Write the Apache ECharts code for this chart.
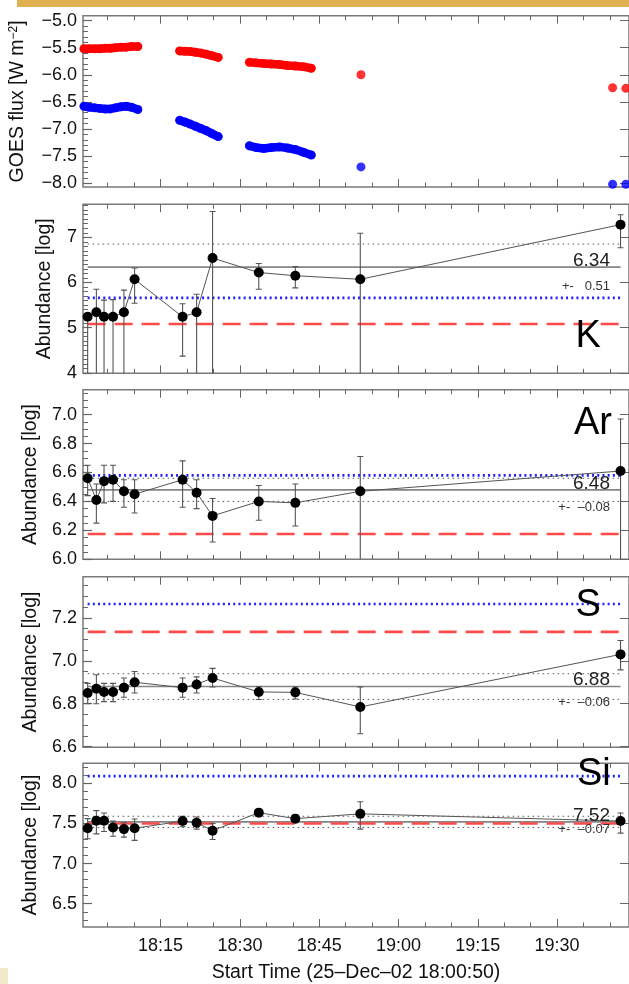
<!DOCTYPE html>
<html><head><meta charset="utf-8">
<script src="https://cdn.jsdelivr.net/npm/echarts@6.0.0/dist/echarts.min.js"></script>
<style>html,body{margin:0;padding:0;background:#fff;}#chart{width:629px;height:984px;}</style>
</head><body><div id="chart"></div>
<script>
// ---------------- DATA ----------------
// GOES flux (log W m^-2), time in minutes after 18:00 ; null = gap between segments
const goesTime  = [0.5,1.5,2.5,3.5,4.5,5.5,6.5,7.5,8.5,9.5,10.7, null,
                   18.6,19.6,20.6,21.6,22.6,23.6,24.6,25.9, null,
                   31.8,33,34.5,36,37.5,39,40.5,42,43.5, null, 52.9, null, 100.5, null, 103.0];
const goesLong  = [-5.52,-5.52,-5.52,-5.52,-5.51,-5.51,-5.50,-5.49,-5.49,-5.48,-5.48, null,
                   -5.56,-5.565,-5.57,-5.585,-5.60,-5.62,-5.645,-5.68, null,
                   -5.77,-5.78,-5.79,-5.80,-5.81,-5.83,-5.84,-5.85,-5.88, null, -6.00, null, -6.24, null, -6.25];
const goesShort = [-6.58,-6.60,-6.61,-6.62,-6.63,-6.63,-6.61,-6.59,-6.58,-6.60,-6.64, null,
                   -6.84,-6.87,-6.91,-6.95,-6.99,-7.03,-7.08,-7.14, null,
                   -7.31,-7.34,-7.36,-7.34,-7.33,-7.35,-7.38,-7.43,-7.48, null, -7.70, null, -8.02, null, -8.02];

// Abundance measurements, time in minutes after 18:00
const abTime = [1.2, 2.85, 4.3, 6.0, 8.06, 10.08, 19.16, 21.81, 24.83, 33.57, 40.48, 52.77, 102.0];
const kVal  = [5.24, 5.34, 5.24, 5.24, 5.34, 6.07, 5.24, 5.34, 6.54, 6.22, 6.15, 6.07, 7.28];
const kHi   = [5.30, 5.85, 5.61, 5.62, 5.83, 6.32, 5.53, 5.74, 7.57, 6.42, 6.35, 7.09, 7.50];
const kLo   = [3.0, 3.0, 3.0, 3.0, 3.0, 5.54, 4.37, 3.0, 3.0, 5.85, 5.88, 3.0, 6.77];
const arVal = [6.56, 6.41, 6.54, 6.55, 6.47, 6.45, 6.55, 6.46, 6.30, 6.40, 6.39, 6.47, 6.61];
const arHi  = [6.65, 6.52, 6.65, 6.65, 6.55, 6.55, 6.68, 6.55, 6.42, 6.51, 6.52, 6.71, 6.97];
const arLo  = [6.44, 6.25, 6.39, 6.40, 6.36, 6.32, 6.36, 6.35, 6.12, 6.27, 6.23, 5.9, 5.9];
const sVal  = [6.85, 6.87, 6.855, 6.855, 6.875, 6.90, 6.875, 6.89, 6.92, 6.855, 6.853, 6.785, 7.03];
const sHi   = [6.895, 6.935, 6.895, 6.895, 6.92, 6.95, 6.92, 6.925, 6.965, 6.88, 6.878, 6.878, 7.095];
const sLo   = [6.80, 6.80, 6.81, 6.81, 6.83, 6.85, 6.83, 6.85, 6.878, 6.82, 6.822, 6.66, 6.958];
const siVal = [7.44, 7.535, 7.535, 7.45, 7.43, 7.44, 7.53, 7.51, 7.41, 7.635, 7.56, 7.62, 7.53];
const siHi  = [7.56, 7.66, 7.63, 7.53, 7.51, 7.555, 7.59, 7.58, 7.50, 7.68, 7.61, 7.77, 7.63];
const siLo  = [7.31, 7.37, 7.40, 7.34, 7.33, 7.29, 7.46, 7.43, 7.30, 7.59, 7.51, 7.43, 7.38];

const elements  = ['K', 'Ar', 'S', 'Si'];
const meanAbund = [6.34, 6.48, 6.88, 7.52];
const sdAbund   = [0.51, -0.08, -0.06, -0.07];
const blueRef   = [5.66, 6.58, 7.265, 8.09];
const redRef    = [5.08, 6.175, 7.135, 7.50];

// tick labels
const goesTicks = [-8.0, -7.5, -7.0, -6.5, -6.0, -5.5, -5.0];
const kTicks  = [4, 5, 6, 7];
const arTicks = [6.0, 6.2, 6.4, 6.6, 6.8, 7.0];
const sTicks  = [6.6, 6.8, 7.0, 7.2];
const siTicks = [6.5, 7.0, 7.5, 8.0];
const xTicks = [15, 30, 45, 60, 75, 90];
const xTickLabels = ['18:15', '18:30', '18:45', '19:00', '19:15', '19:30'];
const xTitle = 'Start Time (25\u2013Dec\u201302 18:00:50)';

// ---------------- LAYOUT / STYLE ----------------
const FONT = 'Liberation Sans, Arial, sans-serif';
const TX_MIN = 0.32, TX_MAX = 103.6;
const GRID_LEFT = 83, GRID_W = 551;
const gridTops = [15.7, 204.3, 389.7, 576.7, 763.3];
const gridHs   = [171.3, 169, 169.6, 170.6, 170];
const yRanges  = [[-8.07, -4.91], [3.99, 7.73], [6.0, 7.172], [6.597, 7.392], [6.21, 8.25]];
const yMinorStep = [0.1, 0.1, 0.05, 0.05, 0.1];
const yDecimals = [1, 0, 1, 1, 1];
const TICK_C = '#666';

function steps(a, b, s) { const r = []; for (let v = a; v <= b + 1e-9; v += s) r.push(+v.toFixed(4)); return r; }
function minorOf(range, step, major) {
  const start = Math.ceil(range[0] / step - 1e-9) * step;
  return steps(start, range[1], step).filter(v => v >= range[0] && v <= range[1] && !major.some(m => Math.abs(m - v) < 1e-6));
}
const xMinor = steps(5, 100, 5).filter(v => xTicks.indexOf(v) < 0);
const yMajorList = [goesTicks, kTicks, arTicks, sTicks, siTicks];

const grids = [], xAxes = [], yAxes = [], series = [];
for (let g = 0; g < 5; g++) {
  grids.push({left: GRID_LEFT, width: GRID_W, top: gridTops[g], height: gridHs[g], show: true,
    borderColor: '#7a7a7a', borderWidth: 1.5, backgroundColor: 'transparent'});
  const last = g === 4;
  const xb = {type: 'value', gridIndex: g, min: TX_MIN, max: TX_MAX, splitLine: {show: false},
    axisLine: {show: false, onZero: false}};
  xAxes.push(Object.assign({}, xb, {position: 'bottom',
    axisTick: {show: true, inside: true, length: 8, customValues: xTicks, lineStyle: {color: TICK_C, width: 1}},
    axisLabel: {show: last, customValues: xTicks, margin: 10, fontSize: 18, color: '#111', fontFamily: FONT,
      formatter: v => xTickLabels[xTicks.indexOf(Math.round(v))]},
    name: last ? xTitle : '', nameLocation: 'middle', nameGap: 36,
    nameTextStyle: {fontSize: 19.5, color: '#111', fontFamily: FONT}}));
  xAxes.push(Object.assign({}, xb, {position: 'bottom',
    axisTick: {show: true, inside: true, length: 4.5, customValues: xMinor, lineStyle: {color: TICK_C, width: 1}},
    axisLabel: {show: false}}));
  xAxes.push(Object.assign({}, xb, {position: 'top',
    axisTick: {show: true, inside: true, length: 8, customValues: xTicks, lineStyle: {color: TICK_C, width: 1}},
    axisLabel: {show: false}}));
  xAxes.push(Object.assign({}, xb, {position: 'top',
    axisTick: {show: true, inside: true, length: 4.5, customValues: xMinor, lineStyle: {color: TICK_C, width: 1}},
    axisLabel: {show: false}}));

  const yr = yRanges[g], maj = yMajorList[g], mino = minorOf(yr, yMinorStep[g], maj);
  const yb = {type: 'value', gridIndex: g, min: yr[0], max: yr[1], splitLine: {show: false},
    axisLine: {show: false, onZero: false}};
  yAxes.push(Object.assign({}, yb, {position: 'left',
    axisTick: {show: true, inside: true, length: 9, customValues: maj, lineStyle: {color: TICK_C, width: 1.2}},
    axisLabel: {show: true, customValues: maj, margin: 6, fontSize: 18, color: '#111', fontFamily: FONT,
      formatter: v => v.toFixed(yDecimals[g]).replace('-', '\u2212')},
    name: g === 0 ? 'GOES flux [W m{sup|\u22122}]' : 'Abundance [log]',
    nameLocation: 'middle', nameGap: g === 0 ? 55 : 28,
    nameTextStyle: {fontSize: 19.5, color: '#111', fontFamily: FONT,
      rich: {sup: {fontSize: 12, fontFamily: FONT, color: '#111', verticalAlign: 'top', padding: [0, 0, 8, 0]}}}}));
  yAxes.push(Object.assign({}, yb, {position: 'left',
    axisTick: {show: true, inside: true, length: 5, customValues: mino, lineStyle: {color: TICK_C, width: 1}},
    axisLabel: {show: false}}));
  yAxes.push(Object.assign({}, yb, {position: 'right',
    axisTick: {show: true, inside: true, length: 9, customValues: maj, lineStyle: {color: TICK_C, width: 1}},
    axisLabel: {show: false}}));
}

// GOES panel
const goesLongData = goesTime.map((t, i) => [t, goesLong[i]]);
const goesShortData = goesTime.map((t, i) => [t, goesShort[i]]);
[[goesLongData, '#ff0000'], [goesShortData, '#0000ff']].forEach(([d, c]) => {
  series.push({type: 'line', xAxisIndex: 0, yAxisIndex: 0, data: d, symbol: 'none', connectNulls: false,
    lineStyle: {color: c, width: 8.5, cap: 'round', join: 'round'}, z: 3, silent: true});
  series.push({type: 'scatter', xAxisIndex: 0, yAxisIndex: 0, data: d.filter(p => p[1] !== null),
    symbolSize: 9, itemStyle: {color: c}, z: 3, silent: true});
});

// abundance panels
const abVals = [kVal, arVal, sVal, siVal], abHi = [kHi, arHi, sHi, siHi], abLo = [kLo, arLo, sLo, siLo];
const showLowerSd = [false, true, true, true];
const dataSeriesIndex = [];
const t0 = abTime[0], tN = abTime[abTime.length - 1];
for (let p = 0; p < 4; p++) {
  const g = p + 1, xi = 4 * g, yi = 3 * g;
  const hline = (v, style, z) => series.push({type: 'line', xAxisIndex: xi, yAxisIndex: yi,
    data: [[t0, v], [tN, v]], symbol: 'none', lineStyle: style, z: z, silent: true});
  hline(meanAbund[p], {color: '#858585', width: 1.6, type: 'solid'}, 2);
  hline(meanAbund[p] + sdAbund[p], {color: '#555', width: 1, type: [1.5, 3.5]}, 2);
  if (showLowerSd[p]) hline(meanAbund[p] - sdAbund[p], {color: '#555', width: 1, type: [1.5, 3.5]}, 2);
  hline(redRef[p], {color: '#ff4a4a', width: 2.6, type: [18, 9]}, 3);
  hline(blueRef[p], {color: '#1f1fff', width: 2.6, type: [2, 3.2]}, 3);
  // error bars
  series.push({type: 'custom', xAxisIndex: xi, yAxisIndex: yi, clip: true, z: 4, silent: true,
    data: abTime.map((t, i) => [t, abLo[p][i], abHi[p][i]]),
    encode: {x: 0, y: [1, 2]},
    renderItem: function (params, api) {
      const x = api.value(0);
      const lo = api.coord([x, api.value(1)]);
      const hi = api.coord([x, api.value(2)]);
      const st = {stroke: '#555', lineWidth: 1.1};
      return {type: 'group', children: [
        {type: 'line', shape: {x1: lo[0], y1: lo[1], x2: hi[0], y2: hi[1]}, style: st},
        {type: 'line', shape: {x1: hi[0] - 3, y1: hi[1], x2: hi[0] + 3, y2: hi[1]}, style: st},
        {type: 'line', shape: {x1: lo[0] - 3, y1: lo[1], x2: lo[0] + 3, y2: lo[1]}, style: st}
      ]};
    }});
  dataSeriesIndex.push(series.length);
  series.push({type: 'line', xAxisIndex: xi, yAxisIndex: yi, data: abTime.map((t, i) => [t, abVals[p][i]]),
    symbol: 'circle', symbolSize: 10, showSymbol: true, itemStyle: {color: '#000'},
    lineStyle: {color: '#555', width: 1}, z: 5, silent: true});
}

const chart = echarts.init(document.getElementById('chart'), null, {renderer: 'canvas'});
chart.setOption({animation: false, backgroundColor: '#fff', grid: grids, xAxis: xAxes, yAxis: yAxes, series: series});

// annotations
const meanLabelRight = 610;
const sdLabelOffset = [19.5, 18, 16, 7.4];
const elemPos = [[575.5, 337], [574, 423.5], [575.5, 605.5], [577, 775]];
const graphics = [
  {type: 'rect', shape: {x: 17, y: 0, width: 612, height: 7}, style: {fill: '#dfb152'}},
  {type: 'rect', shape: {x: 0, y: 968, width: 8, height: 16}, style: {fill: '#f1e7c9'}},
  {type: 'text', x: -5, y: 931, style: {text: ')', font: '18px ' + FONT, fill: '#222', verticalAlign: 'middle'}}
];
for (let p = 0; p < 4; p++) {
  const px = chart.convertToPixel({seriesIndex: dataSeriesIndex[p]}, [abTime[0], meanAbund[p]]);
  const yLine = px[1];
  graphics.push({type: 'text', x: meanLabelRight, y: yLine - 6.5,
    style: {text: meanAbund[p].toFixed(2), font: '19px ' + FONT, fill: '#222', align: 'right', verticalAlign: 'middle'}, z: 10});
  const sdTxt = sdAbund[p] < 0 ? '+-  \u2013' + Math.abs(sdAbund[p]).toFixed(2) : '+-   ' + sdAbund[p].toFixed(2);
  graphics.push({type: 'text', x: meanLabelRight, y: yLine + sdLabelOffset[p],
    style: {text: sdTxt, font: '13px ' + FONT, fill: '#333', align: 'right', verticalAlign: 'middle'}, z: 10});
  graphics.push({type: 'text', x: elemPos[p][0], y: elemPos[p][1],
    style: {text: elements[p], font: '38px ' + FONT, fill: '#000', align: 'left', verticalAlign: 'middle'}, z: 10});
}
chart.setOption({graphic: graphics});
</script>
</body></html>
